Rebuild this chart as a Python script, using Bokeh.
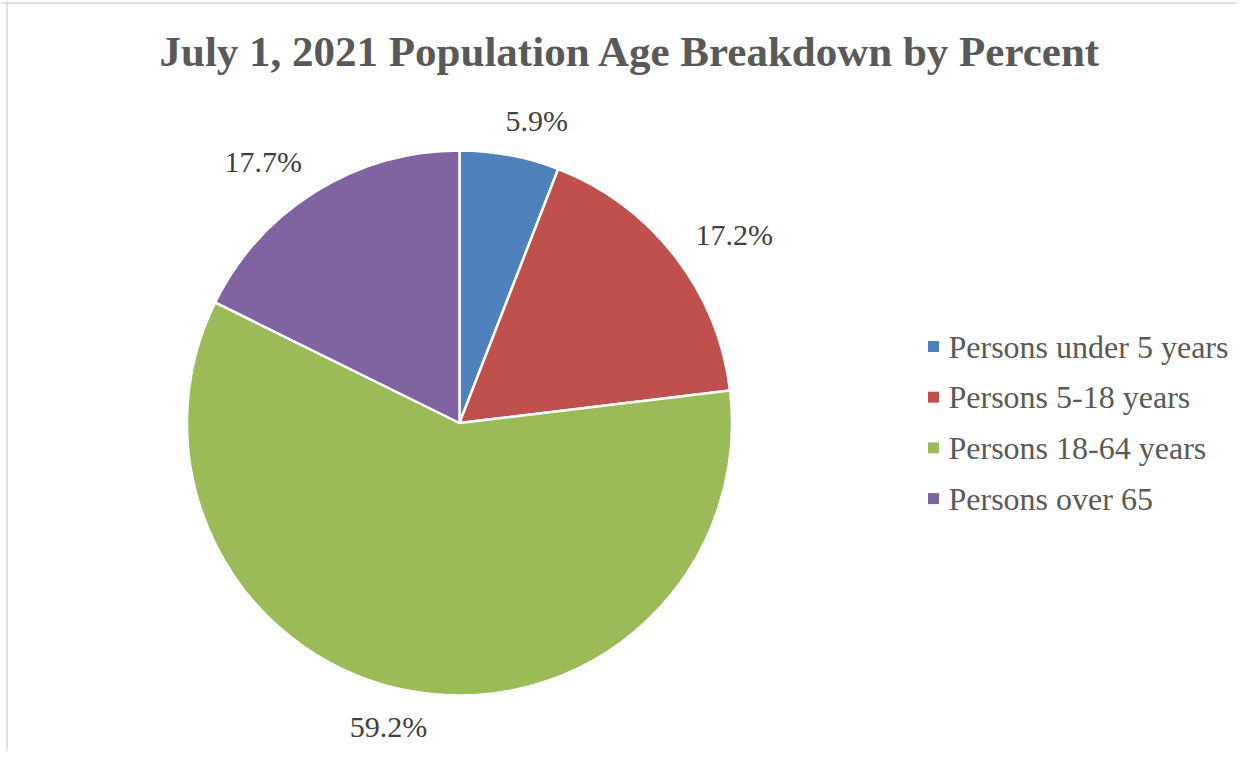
import numpy as np
from bokeh.plotting import figure
from bokeh.models import Range1d, Span, ColumnDataSource
from bokeh.core.properties import value
from bokeh.embed import file_html
from bokeh.resources import INLINE

# ---- data ----
title_text = "July 1, 2021 Population Age Breakdown by Percent"
categories = ["Persons under 5 years", "Persons 5-18 years", "Persons 18-64 years", "Persons over 65"]
percents = [5.9, 17.2, 59.2, 17.7]
colors = ["#4f81bd", "#c0504d", "#9bbb59", "#8064a2"]

# ---- layout (coordinates mirror reference pixels, y measured up from image bottom) ----
W, H = 1237, 751
FONT = "Liberation Serif"
cx, cy, r = 459, 767 - 422.5, 272.5

p = figure(width=W, height=H, output_backend="svg", toolbar_location=None,
           x_range=Range1d(0, W), y_range=Range1d(767 - H, 767),
           min_border=0, outline_line_color=None)
p.axis.visible = False
p.grid.visible = False
p.background_fill_color = "white"

# border (left and top visible in the reference)
p.add_layout(Span(location=6.5, dimension="height", line_color="#d9d9d9", line_width=1.5))
p.add_layout(Span(location=764.5, dimension="width", line_color="#d9d9d9", line_width=1.5))

# pie wedges, clockwise from 12 o'clock
frac = np.array(percents) / sum(percents)
cum = np.concatenate([[0], np.cumsum(frac)])
starts = np.pi / 2 - 2 * np.pi * cum[1:]
ends = np.pi / 2 - 2 * np.pi * cum[:-1]
src = ColumnDataSource(dict(start=starts, end=ends, color=colors, cat=categories))
p.wedge(x=cx, y=cy, radius=r, start_angle="start", end_angle="end", fill_color="color",
        line_color="white", line_width=2.5, source=src)

# data labels (outside end)
mid = (starts + ends) / 2
lx = cx + 288 * np.cos(mid) + 48 * np.tanh(3 * np.cos(mid))
ly = cy + 308 * np.sin(mid)
labels = [f"{v:.1f}%" for v in percents]
p.text(x=lx, y=ly, text=labels, text_font=value(FONT), text_font_size="30px",
       text_color="#404040", text_align="center", text_baseline="middle")

# title
p.text(x=[630], y=[767 - 50.5], text=[title_text], text_font=value(FONT), text_font_size="43px",
       text_font_style="bold", text_color="#595959", text_align="center", text_baseline="middle")

# legend
idx = np.arange(len(categories))
leg_y = 767 - (346 + 50.7 * idx)
p.scatter(x=[933] * len(categories), y=leg_y, marker="square", size=11, fill_color=colors, line_color=None)
p.text(x=[948] * len(categories), y=leg_y, text=categories, text_font=value(FONT), text_font_size="32px",
       text_color="#595959", text_align="left", text_baseline="middle")

open("out.html", "w").write(file_html(p, INLINE))
